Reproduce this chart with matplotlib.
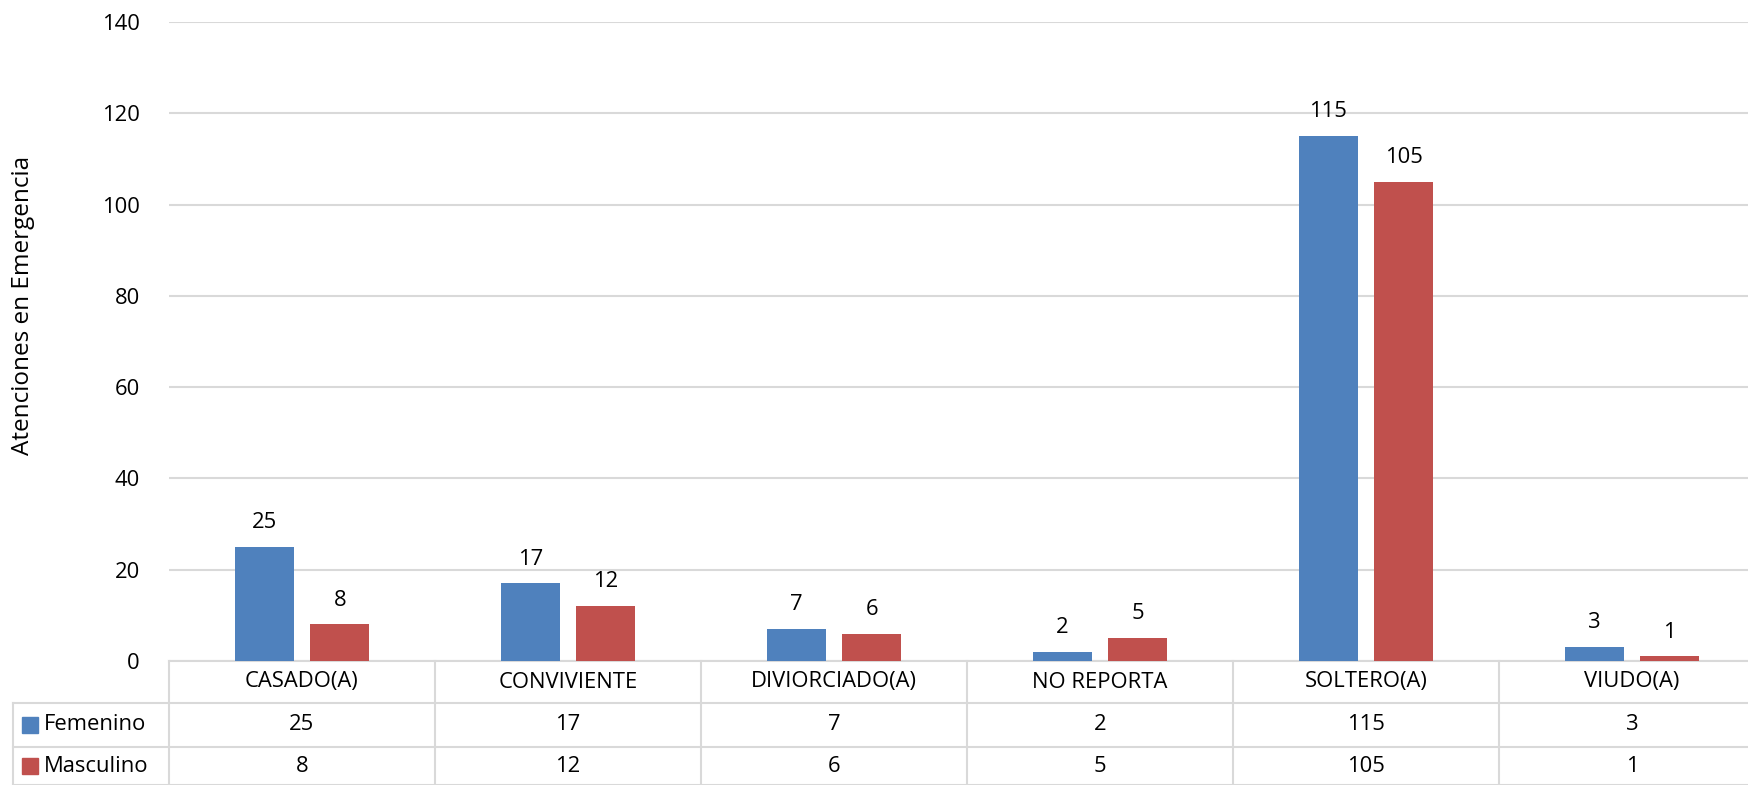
import matplotlib
matplotlib.use("Agg")
import matplotlib.pyplot as plt
from matplotlib.transforms import blended_transform_factory
from matplotlib.patches import Rectangle

categories = ["CASADO(A)", "CONVIVIENTE", "DIVIORCIADO(A)", "NO REPORTA", "SOLTERO(A)", "VIUDO(A)"]
femenino = [25, 17, 7, 2, 115, 3]
masculino = [8, 12, 6, 5, 105, 1]
series_names = ["Femenino", "Masculino"]
colors = ["#4F81BD", "#C0504D"]

plt.rcParams['font.family'] = ['Open Sans', 'DejaVu Sans']
FS = 15.8

W, H = 1748, 785
fig = plt.figure(figsize=(W / 100, H / 100), dpi=100)
left_px, right_px, top_px, bot_px = 169, 1765, 22, 661
ax = fig.add_axes([left_px / W, (H - bot_px) / H, (right_px - left_px) / W, (bot_px - top_px) / H])

n = len(categories)
x = list(range(n))
bw = 0.222
off = 0.142
ax.bar([i - off for i in x], femenino, width=bw, color=colors[0], zorder=3)
ax.bar([i + off for i in x], masculino, width=bw, color=colors[1], zorder=3)

for i in x:
    ax.annotate(str(femenino[i]), (i - off, femenino[i]), xytext=(0, 10), textcoords="offset points",
                ha="center", va="bottom", fontsize=FS)
    ax.annotate(str(masculino[i]), (i + off, masculino[i]), xytext=(0, 10), textcoords="offset points",
                ha="center", va="bottom", fontsize=FS)

ax.set_xlim(-0.5, n - 0.5)
ax.set_ylim(0, 140)
ax.set_yticks(range(0, 141, 20))
ax.tick_params(axis="y", length=0, labelsize=FS, pad=21)
ax.set_xticks([])
ax.grid(axis="y", color="#D9D9D9", linewidth=1.5, zorder=0)
for s in ax.spines.values():
    s.set_visible(False)
ax.set_ylabel("Atenciones en Emergencia", fontsize=17.5)
ax.yaxis.set_label_coords(-(left_px - 35) / (right_px - left_px), (bot_px - 305) / (bot_px - top_px))

# data table below the axis
tr = blended_transform_factory(ax.transData, ax.transAxes)
axh = bot_px - top_px
pxu = (right_px - left_px) / n
row_y = [0, -(703 - 661) / axh, -(747 - 661) / axh, -(785 - 661) / axh]
leg_x = -0.5 - (left_px - 13) / pxu
lc = "#D9D9D9"
lw = 1.5
ax.plot([-0.5, n - 0.5], [row_y[0]] * 2, transform=tr, color=lc, lw=lw, clip_on=False)
for r in (1, 2, 3):
    ax.plot([leg_x, n - 0.5], [row_y[r]] * 2, transform=tr, color=lc, lw=lw, clip_on=False)
for i in range(n + 1):
    ax.plot([i - 0.5, i - 0.5], [row_y[0], row_y[3]], transform=tr, color=lc, lw=lw, clip_on=False)
ax.plot([leg_x, leg_x], [row_y[1], row_y[3]], transform=tr, color=lc, lw=lw, clip_on=False)

for i, c in enumerate(categories):
    ax.text(i, (row_y[0] + row_y[1]) / 2, c, transform=tr, ha="center", va="center", fontsize=FS)
for r, vals in enumerate([femenino, masculino]):
    yc = (row_y[r + 1] + row_y[r + 2]) / 2
    for i, v in enumerate(vals):
        ax.text(i, yc, str(v), transform=tr, ha="center", va="center", fontsize=FS)
    sq = 16 / pxu
    sqh = 16 / axh
    ax.add_patch(Rectangle((leg_x + 9 / pxu, yc - sqh / 2), sq, sqh, transform=tr,
                           color=colors[r], clip_on=False))
    ax.text(leg_x + 31 / pxu, yc, series_names[r], transform=tr, ha="left", va="center", fontsize=FS)

fig.savefig("out.png", dpi=100)
